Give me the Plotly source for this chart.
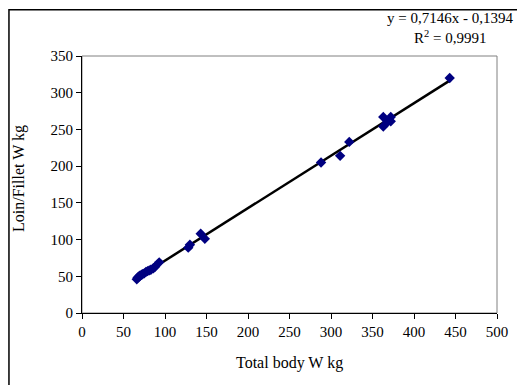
import plotly.graph_objects as go
import numpy as np

# Data (Total body W kg vs Loin/Fillet W kg)
total_body = [66, 67, 68, 69, 70, 72, 73, 75, 77, 79, 81, 83, 86, 88, 93,
              128, 130, 143, 148,
              288, 311, 322, 363, 363, 368, 372, 372, 443]
loin_fillet = [46, 48, 49, 50, 51, 52, 53, 54, 56, 57, 58, 59, 61, 63, 69,
               89, 93, 108, 101,
               205, 214, 233, 267, 254, 260, 267, 261, 320]

slope = 0.7146
intercept = -0.1394
equation_text = "y = 0,7146x - 0,1394"
r2_text = "R<sup>2</sup> = 0,9991"

x_ticks = [0, 50, 100, 150, 200, 250, 300, 350, 400, 450, 500]
y_ticks = [0, 50, 100, 150, 200, 250, 300, 350]

font_family = "Liberation Serif"

xl = np.array([min(total_body), max(total_body)])
yl = slope * xl + intercept

fig = go.Figure()
fig.add_trace(go.Scatter(x=xl, y=yl, mode="lines",
                         line=dict(color="black", width=2.5),
                         hoverinfo="skip", showlegend=False))
fig.add_trace(go.Scatter(x=total_body, y=loin_fillet, mode="markers",
                         marker=dict(symbol="diamond", size=8, color="#000080",
                                     line=dict(width=0)),
                         showlegend=False))

fig.update_layout(
    width=525, height=385,
    margin=dict(l=74, r=36, t=48, b=80),
    paper_bgcolor="white", plot_bgcolor="white",
    font=dict(family=font_family, color="black", size=15),
    xaxis=dict(range=[0, 500], tickvals=x_ticks, showgrid=False, zeroline=False,
               showline=True, linecolor="black", linewidth=1,
               ticks="outside", ticklen=5, tickcolor="black",
               tickfont=dict(family=font_family, size=15)),
    yaxis=dict(range=[0, 350], tickvals=y_ticks, showgrid=False, zeroline=False,
               showline=True, linecolor="black", linewidth=1,
               ticks="outside", ticklen=5, tickcolor="black",
               tickfont=dict(family=font_family, size=15)),
    shapes=[
        dict(type="rect", xref="paper", yref="paper", x0=0, x1=1, y0=0, y1=1,
             line=dict(color="#808080", width=1), layer="below"),
        dict(type="rect", xref="paper", yref="paper", x0=-0.176, x1=1.5,
             y0=-0.5, y1=1.18, line=dict(color="black", width=1.5)),
    ],
    annotations=[
        dict(text=equation_text, xref="paper", yref="paper", x=0.887, y=1.148,
             xanchor="center", yanchor="middle", showarrow=False,
             font=dict(family=font_family, size=15)),
        dict(text=r2_text, xref="paper", yref="paper", x=0.887, y=1.072,
             xanchor="center", yanchor="middle", showarrow=False,
             font=dict(family=font_family, size=15)),
        dict(text="Total body W kg", xref="paper", yref="paper", x=0.5, y=-0.195,
             xanchor="center", yanchor="middle", showarrow=False,
             font=dict(family=font_family, size=16)),
        dict(text="Loin/Fillet W kg", xref="paper", yref="paper", x=-0.152, y=0.525,
             xanchor="center", yanchor="middle", showarrow=False, textangle=-90,
             font=dict(family=font_family, size=16)),
    ],
)

fig.write_html("out.html")
